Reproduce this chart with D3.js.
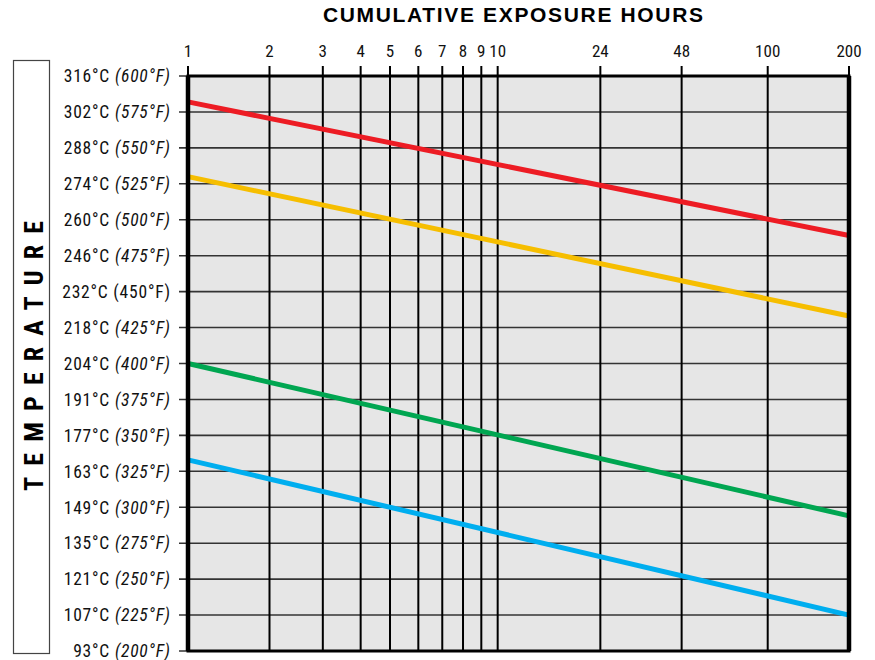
<!DOCTYPE html>
<html><head><meta charset="utf-8">
<script src="https://cdn.jsdelivr.net/npm/d3@7"></script>
<style>
body{margin:0;background:#fff;}
svg{display:block;}
</style></head>
<body><svg id="chart" width="875" height="660"></svg>
<script>
// ---- data ----
const hourTicks = [1, 2, 3, 4, 5, 6, 7, 8, 9, 10, 24, 48, 100, 200];
const tempF = [600, 575, 550, 525, 500, 475, 450, 425, 400, 375, 350, 325, 300, 275, 250, 225, 200];
const tempC = [316, 302, 288, 274, 260, 246, 232, 218, 204, 191, 177, 163, 149, 135, 121, 107, 93];
const uprightF = [450];           // the one label whose °F part is not italic
const hours = [1, 200];
const redF = [582, 489];
const yellowF = [530, 433];
const greenF = [400, 294];
const blueF = [333, 225];
const seriesColors = ["#ed1c24", "#f6be00", "#00a651", "#00aeef"];

// ---- layout ----
const svg = d3.select("#chart");
const m = {left: 188, right: 849, top: 76, bottom: 651};
const W = m.right - m.left, H = m.bottom - m.top;
const condensed = "'Roboto Condensed','Roboto',sans-serif";

// hand-drawn style log axis: piecewise logarithmic scale
const x = d3.scaleLog()
  .domain([1, 2, 5, 10, 200])
  .range([0, 0.1233, 0.3056, 0.4685, 1].map(f => m.left + f * W));
const y = d3.scaleLinear().domain([200, 600]).range([m.bottom, m.top]);

// plot background
svg.append("rect").attr("x", m.left).attr("y", m.top).attr("width", W).attr("height", H)
  .attr("fill", "#e6e6e6");

// horizontal grid
svg.append("g").selectAll("line").data(tempF).join("line")
  .attr("x1", m.left - 9).attr("x2", m.right)
  .attr("y1", d => y(d)).attr("y2", d => y(d))
  .attr("stroke", "#333").attr("stroke-width", 1.6);

// vertical grid
svg.append("g").selectAll("line").data(hourTicks).join("line")
  .attr("x1", d => x(d)).attr("x2", d => x(d))
  .attr("y1", m.top - 10).attr("y2", m.bottom)
  .attr("stroke", "#000").attr("stroke-width", 2);

// top axis labels
svg.append("g").selectAll("text").data(hourTicks).join("text")
  .attr("x", d => x(d)).attr("y", 57)
  .attr("text-anchor", "middle")
  .attr("font-family", condensed).attr("font-size", 17)
  .attr("fill", "#111")
  .text(d => d);

// left axis labels
const yl = svg.append("g").attr("font-family", condensed).attr("font-size", 17.5)
  .selectAll("text").data(tempF).join("text")
  .attr("x", 170).attr("y", d => y(d)).attr("dy", "0.36em")
  .attr("text-anchor", "end")
  .attr("fill", "#111");
yl.append("tspan").text((d, i) => tempC[i] + "°C ");
yl.append("tspan").attr("font-style", d => uprightF.includes(d) ? "normal" : "italic")
  .text(d => "(" + d + "°F)");
// widen slightly to the reference label width
{
  const w0 = yl.node().getComputedTextLength();
  const ls = Math.max(0, (107 - w0) / 13);
  yl.attr("letter-spacing", ls).attr("x", 170 + ls);
}

// lines
const series = [redF, yellowF, greenF, blueF];
const line = d3.line().x(d => x(d[0])).y(d => y(d[1]));
svg.append("g").selectAll("path").data(series).join("path")
  .attr("d", s => line(hours.map((h, i) => [h, s[i]])))
  .attr("fill", "none")
  .attr("stroke", (d, i) => seriesColors[i])
  .attr("stroke-width", 5);

// frame
svg.append("rect").attr("x", m.left).attr("y", m.top).attr("width", W).attr("height", H)
  .attr("fill", "none").attr("stroke", "#000").attr("stroke-width", 3);
svg.append("line").attr("x1", m.left).attr("x2", m.left).attr("y1", m.top).attr("y2", m.bottom)
  .attr("stroke", "#000").attr("stroke-width", 4.5);
svg.append("line").attr("x1", m.right).attr("x2", m.right).attr("y1", m.top).attr("y2", m.bottom)
  .attr("stroke", "#000").attr("stroke-width", 4.5);

// title
const title = svg.append("text").attr("y", 22).attr("text-anchor", "middle")
  .attr("font-family", "'Liberation Sans',Arial,sans-serif").attr("font-weight", "bold")
  .attr("font-size", 21).attr("fill", "#000")
  .text("CUMULATIVE EXPOSURE HOURS");
{
  const w0 = title.node().getComputedTextLength();
  const ls = Math.max(0, (380 - w0) / 24);
  title.attr("letter-spacing", ls).attr("x", 513 + ls / 2);
}

// left boxed label
svg.append("rect").attr("x", 13.5).attr("y", 60.5).attr("width", 36).attr("height", 593)
  .attr("fill", "none").attr("stroke", "#444").attr("stroke-width", 1.2);
const ylab = svg.append("text")
  .attr("text-anchor", "middle")
  .attr("font-family", condensed).attr("font-weight", "bold")
  .attr("font-size", 26).attr("fill", "#000")
  .text("TEMPERATURE");
{
  const w0 = ylab.node().getComputedTextLength();
  const ls = Math.max(0, (270 - w0) / 10);
  ylab.attr("letter-spacing", ls)
    .attr("transform", `translate(42.5,${356 - ls / 2}) rotate(-90)`);
}
</script></body></html>
